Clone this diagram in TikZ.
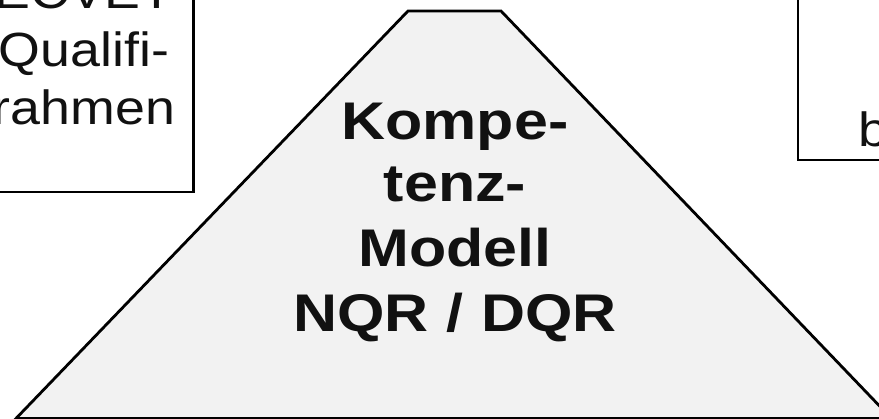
\documentclass[tikz,border=0pt]{standalone}
\usepackage{fontspec}
\setmainfont{Liberation Sans}
\newfontfamily\wide[FakeStretch=1.12]{Liberation Sans}
\newfontfamily\widebf[FakeStretch=1.15]{Liberation Sans}
\definecolor{pyrfill}{RGB}{242,242,242}
\definecolor{inkc}{RGB}{17,17,17}
\begin{document}
\begin{tikzpicture}[x=1pt,y=1pt,
  frame/.style={draw=black,line width=2.8pt,line join=miter},
  lbl/.style={inner sep=0pt,anchor=base,text=inkc,font=\wide\fontsize{48}{58}\selectfont},
  blbl/.style={inner sep=0pt,anchor=base,text=inkc,font=\widebf\bfseries\fontsize{53}{62}\selectfont}]
\useasboundingbox (0,0) rectangle (879,419);
\clip (0,0) rectangle (879,419);
\fill[white] (0,0) rectangle (879,419);
% left box
\draw[frame] (-20,227) rectangle (193.5,440);
\node[lbl] (ecvet) at (84,410) {ECVET};
\node[lbl] (quali) at (84,352) {Qualifi-};
\node[lbl] (rahmen) at (84,294) {rahmen};
% right box
\draw[frame] (798,259) rectangle (920,440);
\node[lbl,anchor=base west] (rb) at (858,272) {b};
% pyramid
\draw[frame,fill=pyrfill] (16,0.5) -- (408,408) -- (501,408) -- (891.5,0.5) -- cycle;
\node[blbl] (k1) at (455,279) {Kompe-};
\node[blbl] (k2) at (455,217) {tenz-};
\node[blbl] (k3) at (455,152) {Modell};
\node[blbl] (k4) at (455,87) {NQR\,\,/\,\,DQR};
\end{tikzpicture}
\end{document}
